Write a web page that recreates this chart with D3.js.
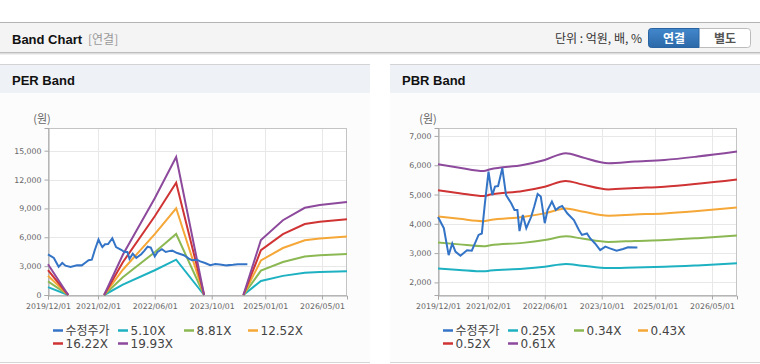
<!DOCTYPE html>
<html>
<head>
<meta charset="utf-8">
<script src="https://cdn.jsdelivr.net/npm/d3@7"></script>
<style>
  body { margin: 0; background: #fff; }
  svg { display: block; font-family: "DejaVu Sans", sans-serif; }
</style>
</head>
<body>
<svg id="chart" width="760" height="364"></svg>
<script>
// price (수정주가), shared by both charts
const priceDates = ['2019-12-01','2020-01-20','2020-03-01','2020-04-01','2020-04-28','2020-06-10','2020-08-05','2020-09-15','2020-10-12','2020-11-12','2020-12-10','2021-01-05','2021-02-05','2021-02-24','2021-03-10','2021-04-01','2021-04-28','2021-06-03','2021-07-05','2021-08-18','2021-09-15','2021-10-10','2021-10-28','2021-11-25','2021-12-25','2022-02-05','2022-03-03','2022-04-01','2022-04-28','2022-06-01','2022-06-25','2022-08-01','2022-09-03','2022-10-01','2022-10-28','2022-12-10','2023-02-05','2023-03-20','2023-04-15','2023-05-28','2023-06-25','2023-08-05','2023-09-18','2023-11-01','2023-12-10','2024-02-05','2024-04-01','2024-05-12','2024-08-01']
const priceValues = [4230,3850,2930,3330,3050,2910,3100,3080,3330,3620,3670,4700,5780,5270,4980,5270,5290,5900,4980,4700,4470,4470,3750,4300,3850,4240,4590,5020,4930,4020,4470,4760,4470,4560,4610,4360,4130,3790,3620,3670,3500,3330,3100,3220,3160,3080,3140,3200,3190]

// EPS (null = negative, no band)
const epsDates = ['2019-12-01','2020-05-22','2020-09-01','2021-03-25','2021-09-01','2022-06-01','2022-12-01','2023-07-28','2024-01-01','2024-06-28','2024-11-25','2025-06-01','2025-12-05','2026-04-12','2026-12-01']
const epsValues = [160,0,null,0,210,505,720,0,null,0,287,390,455,469,485]

// BPS
const bpsDates = ['2019-12-01','2020-06-01','2020-12-25','2021-02-20','2021-11-25','2022-06-01','2022-11-28','2023-04-15','2023-11-28','2024-07-10','2025-03-20','2025-12-28','2026-12-01']
const bpsValues = [9890,9700,9510,9610,9850,10130,10510,10280,9950,10040,10130,10320,10600]

const perMultiples = [5.10, 8.81, 12.52, 16.22, 19.93]
const pbrMultiples = [0.25, 0.34, 0.43, 0.52, 0.61]

const xTickLabels = ['2019/12/01','2021/02/01','2022/06/01','2023/10/01','2025/01/01','2026/05/01']
const perTicks = [0, 3000, 6000, 9000, 12000, 15000]
const pbrTicks = [2000, 3000, 4000, 5000, 6000, 7000]

const colors = ['#3474c6', '#1eb1c2', '#8cb853', '#f5a737', '#cf3333', '#8d4a9c']

const parse = d3.timeParse('%Y-%m-%d')
const parseTick = d3.timeParse('%Y/%m/%d')
const fmt = d3.format(',')

const svg = d3.select('#chart')

// ---- top header
svg.append('rect').attr('x', 0).attr('y', 23).attr('width', 760).attr('height', 29).attr('fill', '#f4f4f4')
svg.append('line').attr('x1', 0).attr('x2', 760).attr('y1', 22.5).attr('y2', 22.5).attr('stroke', '#b4b4b4')
svg.append('line').attr('x1', 0).attr('x2', 760).attr('y1', 52.5).attr('y2', 52.5).attr('stroke', '#bdbdbd')
svg.append('line').attr('x1', 0).attr('x2', 760).attr('y1', 53.5).attr('y2', 53.5).attr('stroke', '#dedede')
svg.append('line').attr('x1', 0).attr('x2', 760).attr('y1', 54.5).attr('y2', 54.5).attr('stroke', '#efefef')

svg.append('text').attr('x', 12).attr('y', 43.5).attr('font-size', 13).attr('font-weight', 'bold')
    .attr('font-family', 'Liberation Sans, Arial, sans-serif').attr('fill', '#111').text('Band Chart')
svg.append('text').attr('x', 88).attr('y', 43.5).attr('font-size', 12).attr('fill', '#999')
    .attr('font-family', 'Noto Sans CJK KR, sans-serif').text('[연결]')
svg.append('text').attr('x', 642).attr('y', 43).attr('font-size', 12).attr('fill', '#333').attr('text-anchor', 'end')
    .attr('font-family', 'Noto Sans CJK KR, sans-serif').text('단위 : 억원, 배, %')

const defs = svg.append('defs')
const grad = defs.append('linearGradient').attr('id', 'btn').attr('x1', 0).attr('x2', 0).attr('y1', 0).attr('y2', 1)
grad.append('stop').attr('offset', '0%').attr('stop-color', '#4388cc')
grad.append('stop').attr('offset', '100%').attr('stop-color', '#2b68a8')

svg.append('rect').attr('x', 648.5).attr('y', 28.5).attr('width', 102).attr('height', 19).attr('rx', 3)
    .attr('fill', '#fff').attr('stroke', '#bcbcbc')
svg.append('path').attr('d', 'M699,28.5 H651.5 Q648.5,28.5 648.5,31.5 V44.5 Q648.5,47.5 651.5,47.5 H699 Z')
    .attr('fill', 'url(#btn)').attr('stroke', '#2a64a2')
svg.append('text').attr('x', 674).attr('y', 42.5).attr('text-anchor', 'middle').attr('font-size', 12)
    .attr('font-weight', 'bold').attr('fill', '#fff').attr('font-family', 'Noto Sans CJK KR, sans-serif').text('연결')
svg.append('text').attr('x', 725).attr('y', 42.5).attr('text-anchor', 'middle').attr('font-size', 12)
    .attr('font-weight', 'bold').attr('fill', '#555').attr('font-family', 'Noto Sans CJK KR, sans-serif').text('별도')

const xDomain = [parse('2019-12-01'), parse('2026-12-01')]

const draw_panel = (x0, title, base, baseDates, multiples, yDomain, yTicks) => {
    const g = svg.append('g').attr('transform', 'translate(' + x0 + ',0)')
    g.append('rect').attr('x', 0).attr('y', 93).attr('width', 370).attr('height', 269).attr('fill', '#fcfcfc')
    g.append('rect').attr('x', 0).attr('y', 65).attr('width', 370).attr('height', 28).attr('fill', '#eef2f7')
    g.append('line').attr('x1', 0).attr('x2', 370).attr('y1', 64.5).attr('y2', 64.5).attr('stroke', '#d3d3d3')
    g.append('line').attr('x1', 0).attr('x2', 370).attr('y1', 362.5).attr('y2', 362.5).attr('stroke', '#d6d6d6')
    g.append('text').attr('x', 12).attr('y', 85).attr('font-size', 13).attr('font-weight', 'bold')
        .attr('font-family', 'Liberation Sans, Arial, sans-serif').attr('fill', '#111').text(title)

    const left = 48, right = 347, top = 128, bottom = 295
    const x = d3.scaleTime().domain(xDomain).range([left, right])
    const y = d3.scaleLinear().domain(yDomain).range([bottom, top])

    g.append('rect').attr('x', left).attr('y', top).attr('width', right - left).attr('height', bottom - top).attr('fill', '#fff')

    // grid
    g.append('g').selectAll('line').data(yTicks).enter().append('line')
        .attr('x1', left).attr('x2', right).attr('y1', d => Math.round(y(d)) + .5).attr('y2', d => Math.round(y(d)) + .5)
        .attr('stroke', '#e8e8e8')
    const xTicks = xTickLabels.map(parseTick)
    g.append('g').selectAll('line').data(xTicks).enter().append('line')
        .attr('y1', top).attr('y2', bottom).attr('x1', d => Math.round(x(d)) + .5).attr('x2', d => Math.round(x(d)) + .5)
        .attr('stroke', '#e8e8e8')
    g.append('rect').attr('x', left + .5).attr('y', top + .5).attr('width', right - left - 1).attr('height', bottom - top)
        .attr('fill', 'none').attr('stroke', '#c4c4c4')

    // axes
    const yAxis = d3.axisLeft(y).tickValues(yTicks).tickSize(4).tickPadding(3).tickFormat(fmt)
    const xAxis = d3.axisBottom(x).tickValues(xTicks).tickSize(4).tickPadding(4).tickFormat(d3.timeFormat('%Y/%m/%d'))
    const ya = g.append('g').attr('transform', 'translate(' + (left + .5) + ',0)').call(yAxis)
    const xa = g.append('g').attr('transform', 'translate(0,' + (bottom + .5) + ')').call(xAxis)
    ;[ya, xa].forEach(a => {
        a.select('.domain').attr('stroke', '#a8a8a8')
        a.selectAll('.tick line').attr('stroke', '#a8a8a8')
        a.selectAll('.tick text').attr('fill', '#666').attr('font-size', 7.8).attr('font-family', 'DejaVu Sans, sans-serif')
    })

    g.append('text').attr('x', x0 ? 38 : 42).attr('y', 122.5).attr('text-anchor', 'middle').attr('font-size', 11)
        .attr('fill', '#666').attr('font-family', 'Noto Sans CJK KR, sans-serif').text('(원)')

    // bands
    const line = d3.line().defined(d => d.v != null).x(d => x(d.t)).y(d => y(d.v))
    multiples.forEach((m, i) => {
        const pts = baseDates.map((t, j) => ({ t: parse(t), v: base[j] == null ? null : base[j] * m }))
        g.append('path').datum(pts)
            .attr('d', line.curve(title == 'PBR Band' ? d3.curveMonotoneX : d3.curveLinear))
            .attr('fill', 'none').attr('stroke', colors[i + 1]).attr('stroke-width', 2)
    })
    const pricePts = priceDates.map((t, j) => ({ t: parse(t), v: priceValues[j] }))
    g.append('path').datum(pricePts).attr('d', line.curve(d3.curveLinear))
        .attr('fill', 'none').attr('stroke', colors[0]).attr('stroke-width', 2)

    // legend
    const names = ['수정주가'].concat(multiples.map(m => m.toFixed(2) + 'X'))
    const cols = [53, 118, 184, 248]
    names.forEach((n, i) => {
        const lx = cols[i % 4], ly = i < 4 ? 330.5 : 343.5
        g.append('line').attr('x1', lx).attr('x2', lx + 10).attr('y1', ly).attr('y2', ly)
            .attr('stroke', colors[i]).attr('stroke-width', 2.5)
        g.append('text').attr('x', lx + 12.5).attr('y', ly + 4.3).attr('font-size', 12).attr('fill', '#444')
            .attr('font-family', i == 0 ? 'Noto Sans CJK KR, sans-serif' : 'DejaVu Sans, sans-serif').text(n)
    })
}

draw_panel(0, 'PER Band', epsValues, epsDates, perMultiples, [0, 17360], perTicks)
draw_panel(390, 'PBR Band', bpsValues, bpsDates, pbrMultiples, [1570, 7270], pbrTicks)
</script>
</body>
</html>
